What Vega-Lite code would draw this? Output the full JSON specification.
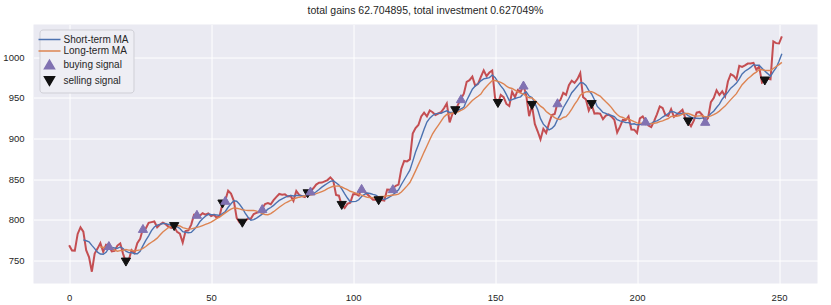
{
  "$schema": "https://vega.github.io/schema/vega-lite/v6.json",
  "width": 784,
  "height": 259,
  "autosize": {"type": "none"},
  "padding": {"left": 33.5, "top": 24.5, "right": 13.5, "bottom": 21.5},
  "background": "white",
  "title": {"text": "total gains 62.704895, total investment 0.627049%", "font": "Liberation Sans", "fontSize": 10.5, "fontWeight": "normal", "color": "#262626", "offset": 8},
  "data": {"values": [
    {"d":0,"close":768.70},{"d":1,"close":762.13},{"d":2,"close":762.02},{"d":3,"close":782.52},{"d":4,"close":790.51},
    {"d":5,"close":785.31},{"d":6,"close":762.56},{"d":7,"close":754.02},{"d":8,"close":736.08},{"d":9,"close":758.49},
    {"d":10,"close":764.48},{"d":11,"close":771.23},{"d":12,"close":760.54},{"d":13,"close":769.20},{"d":14,"close":768.27,"series":"buying signal"},
    {"d":15,"close":760.99},{"d":16,"close":761.68},{"d":17,"close":768.24},{"d":18,"close":770.84},{"d":19,"close":758.04},
    {"d":20,"close":747.92,"series":"selling signal"},{"d":21,"close":750.50},{"d":22,"close":762.52},{"d":23,"close":759.11},{"d":24,"close":771.19},
    {"d":25,"close":776.42},{"d":26,"close":789.29,"series":"buying signal"},{"d":27,"close":789.27},{"d":28,"close":796.10},{"d":29,"close":797.07},
    {"d":30,"close":797.85},{"d":31,"close":790.80},{"d":32,"close":794.20},{"d":33,"close":796.42},{"d":34,"close":794.56},
    {"d":35,"close":791.26},{"d":36,"close":789.91},{"d":37,"close":791.55,"series":"selling signal"},{"d":38,"close":785.05},{"d":39,"close":782.79},
    {"d":40,"close":771.82},{"d":41,"close":786.14},{"d":42,"close":786.90},{"d":43,"close":794.02},{"d":44,"close":806.15},
    {"d":45,"close":806.65,"series":"buying signal"},{"d":46,"close":804.79},{"d":47,"close":807.91},{"d":48,"close":806.36},{"d":49,"close":807.88},
    {"d":50,"close":804.61},{"d":51,"close":806.07},{"d":52,"close":802.17},{"d":53,"close":805.02},{"d":54,"close":819.31,"series":"selling signal"},
    {"d":55,"close":823.87,"series":"buying signal"},{"d":56,"close":835.67},{"d":57,"close":832.15},{"d":58,"close":823.31},{"d":59,"close":802.32},
    {"d":60,"close":796.79},{"d":61,"close":795.70,"series":"selling signal"},{"d":62,"close":798.53},{"d":63,"close":801.49},{"d":64,"close":801.34},
    {"d":65,"close":806.97},{"d":66,"close":808.38},{"d":67,"close":809.56},{"d":68,"close":813.67,"series":"buying signal"},{"d":69,"close":819.24},
    {"d":70,"close":820.45},{"d":71,"close":818.98},{"d":72,"close":824.16},{"d":73,"close":828.07},{"d":74,"close":831.66},
    {"d":75,"close":830.76},{"d":76,"close":831.33},{"d":77,"close":828.64},{"d":78,"close":829.28},{"d":79,"close":823.21},
    {"d":80,"close":835.24},{"d":81,"close":830.63},{"d":82,"close":829.08},{"d":83,"close":827.78},{"d":84,"close":831.91,"series":"selling signal"},
    {"d":85,"close":835.37,"series":"buying signal"},{"d":86,"close":838.68},{"d":87,"close":843.25},{"d":88,"close":845.54},{"d":89,"close":845.62},
    {"d":90,"close":847.20},{"d":91,"close":848.78},{"d":92,"close":852.12},{"d":93,"close":848.40},{"d":94,"close":830.46},
    {"d":95,"close":829.59},{"d":96,"close":817.58,"series":"selling signal"},{"d":97,"close":814.43},{"d":98,"close":819.51},{"d":99,"close":820.92},
    {"d":100,"close":831.41},{"d":101,"close":831.50},{"d":102,"close":829.56},{"d":103,"close":838.55,"series":"buying signal"},{"d":104,"close":834.57},
    {"d":105,"close":831.41},{"d":106,"close":827.88},{"d":107,"close":824.67},{"d":108,"close":824.73},{"d":109,"close":823.35,"series":"selling signal"},
    {"d":110,"close":824.32},{"d":111,"close":823.56},{"d":112,"close":837.17},{"d":113,"close":836.82},{"d":114,"close":838.21,"series":"buying signal"},
    {"d":115,"close":841.65},{"d":116,"close":843.19},{"d":117,"close":862.76},{"d":118,"close":872.30},{"d":119,"close":871.73},
    {"d":120,"close":874.25},{"d":121,"close":905.96},{"d":122,"close":912.57},{"d":123,"close":916.44},{"d":124,"close":927.04},
    {"d":125,"close":931.66},{"d":126,"close":927.13},{"d":127,"close":934.30},{"d":128,"close":932.17},{"d":129,"close":928.78},
    {"d":130,"close":930.60},{"d":131,"close":932.22},{"d":132,"close":937.08},{"d":133,"close":943.00},{"d":134,"close":919.62},
    {"d":135,"close":930.24},{"d":136,"close":934.01,"series":"selling signal"},{"d":137,"close":941.86},{"d":138,"close":948.82,"series":"buying signal"},{"d":139,"close":954.96},
    {"d":140,"close":969.54},{"d":141,"close":971.47},{"d":142,"close":975.88},{"d":143,"close":964.86},{"d":144,"close":966.95},
    {"d":145,"close":975.60},{"d":146,"close":983.68},{"d":147,"close":976.57},{"d":148,"close":980.94},{"d":149,"close":983.41},
    {"d":150,"close":949.83},{"d":151,"close":942.90,"series":"selling signal"},{"d":152,"close":953.40},{"d":153,"close":950.76},{"d":154,"close":942.31},
    {"d":155,"close":939.78},{"d":156,"close":957.37},{"d":157,"close":950.63},{"d":158,"close":959.45},{"d":159,"close":957.09},
    {"d":160,"close":965.59,"series":"buying signal"},{"d":161,"close":952.27},{"d":162,"close":927.33},{"d":163,"close":940.49,"series":"selling signal"},{"d":164,"close":917.79},
    {"d":165,"close":908.73},{"d":166,"close":898.70},{"d":167,"close":911.71},{"d":168,"close":906.69},{"d":169,"close":918.59},
    {"d":170,"close":928.80},{"d":171,"close":930.09},{"d":172,"close":943.83,"series":"buying signal"},{"d":173,"close":947.16},{"d":174,"close":955.99},
    {"d":175,"close":953.42},{"d":176,"close":965.40},{"d":177,"close":970.89},{"d":178,"close":968.15},{"d":179,"close":972.92},
    {"d":180,"close":980.34},{"d":181,"close":950.70},{"d":182,"close":947.80},{"d":183,"close":934.09},{"d":184,"close":941.53,"series":"selling signal"},
    {"d":185,"close":930.50},{"d":186,"close":930.83},{"d":187,"close":930.39},{"d":188,"close":923.65},{"d":189,"close":927.96},
    {"d":190,"close":929.36},{"d":191,"close":926.79},{"d":192,"close":922.90},{"d":193,"close":907.24},{"d":194,"close":914.39},
    {"d":195,"close":922.67},{"d":196,"close":922.22},{"d":197,"close":926.96},{"d":198,"close":910.98},{"d":199,"close":910.67},
    {"d":200,"close":906.66},{"d":201,"close":924.69},{"d":202,"close":927.00},{"d":203,"close":921.28,"series":"buying signal"},{"d":204,"close":915.89},
    {"d":205,"close":913.81},{"d":206,"close":921.29},{"d":207,"close":929.57},{"d":208,"close":939.33},{"d":209,"close":937.34},
    {"d":210,"close":928.45},{"d":211,"close":927.81},{"d":212,"close":935.95},{"d":213,"close":926.50},{"d":214,"close":929.08},
    {"d":215,"close":932.07},{"d":216,"close":935.09},{"d":217,"close":925.11},{"d":218,"close":920.29,"series":"selling signal"},{"d":219,"close":915.00},
    {"d":220,"close":921.81},{"d":221,"close":931.58},{"d":222,"close":932.45},{"d":223,"close":928.53},{"d":224,"close":920.97,"series":"buying signal"},
    {"d":225,"close":924.86},{"d":226,"close":944.49},{"d":227,"close":949.50},{"d":228,"close":959.11},{"d":229,"close":953.27},
    {"d":230,"close":957.79},{"d":231,"close":951.68},{"d":232,"close":969.96},{"d":233,"close":978.89},{"d":234,"close":977.00},
    {"d":235,"close":972.60},{"d":236,"close":989.25},{"d":237,"close":987.83},{"d":238,"close":989.68},{"d":239,"close":992.00},
    {"d":240,"close":992.18},{"d":241,"close":992.81},{"d":242,"close":984.45},{"d":243,"close":988.20},{"d":244,"close":968.45},
    {"d":245,"close":970.54,"series":"selling signal"},{"d":246,"close":973.33},{"d":247,"close":972.56},{"d":248,"close":1019.27},{"d":249,"close":1017.11},
    {"d":250,"close":1016.64},{"d":251,"close":1025.50}
  ]},
  "encoding": {
    "x": {"field": "d", "type": "quantitative", "scale": {"domain": [-12.55, 263.55], "nice": false, "zero": false},
          "axis": {"values": [0, 50, 100, 150, 200, 250], "title": null, "labelPadding": 8.5, "format": "d"}},
    "y": {"type": "quantitative", "scale": {"domain": [721.6, 1040.0], "nice": false, "zero": false},
          "axis": {"values": [750, 800, 850, 900, 950, 1000], "title": null, "labelPadding": 9.5, "format": "d"}}
  },
  "layer": [
    {"mark": {"type": "line", "color": "#C44E52", "strokeWidth": 2},
     "encoding": {"y": {"field": "close", "type": "quantitative"}}},
    {"transform": [
       {"window": [{"op": "mean", "field": "close", "as": "sma"}], "frame": [-5, 0], "sort": [{"field": "d"}]},
       {"filter": {"field": "d", "gte": 5}}],
     "mark": {"type": "line", "color": "#4C72B0", "strokeWidth": 1.4},
     "encoding": {"y": {"field": "sma", "type": "quantitative"}}},
    {"transform": [
       {"window": [{"op": "mean", "field": "close", "as": "lma"}], "frame": [-11, 0], "sort": [{"field": "d"}]},
       {"filter": {"field": "d", "gte": 11}}],
     "mark": {"type": "line", "color": "#DD8452", "strokeWidth": 1.4},
     "encoding": {"y": {"field": "lma", "type": "quantitative"}}},
    {"transform": [{"filter": "isValid(datum.series)"}],
     "mark": {"type": "point", "filled": true, "size": 85, "strokeWidth": 1, "opacity": 1},
     "encoding": {
       "y": {"field": "close", "type": "quantitative"},
       "fill": {"field": "series", "type": "nominal",
                "scale": {"domain": ["Short-term MA", "Long-term MA", "buying signal", "selling signal"], "range": ["#4C72B0", "#DD8452", "#8172B2", "#111111"]},
                "legend": {"title": null, "orient": "none", "legendX": 6, "legendY": 5, "fillColor": "#EEEEF4", "strokeColor": "#CFCFD6", "cornerRadius": 3, "padding": 4, "labelFont": "Liberation Sans", "labelFontSize": 10, "labelColor": "#262626", "rowPadding": 0.5, "symbolSize": 100, "symbolStrokeWidth": 1.5, "labelOffset": 8, "symbolOpacity": 1, "labelLimit": 200}},
       "stroke": {"field": "series", "type": "nominal",
                "scale": {"domain": ["Short-term MA", "Long-term MA", "buying signal", "selling signal"], "range": ["#4C72B0", "#DD8452", "#8172B2", "#111111"]}},
       "shape": {"field": "series", "type": "nominal",
                "scale": {"domain": ["Short-term MA", "Long-term MA", "buying signal", "selling signal"], "range": ["M-2.2,0H2.2", "M-2.2,0H2.2", "triangle-up", "triangle-down"]}}
     }}
  ],
  "config": {
    "view": {"fill": "#EAEAF2", "stroke": null},
    "axis": {"domain": false, "ticks": false, "tickSize": 0, "grid": true, "gridColor": "#FFFFFF", "gridWidth": 1, "labelFont": "Liberation Sans", "labelFontSize": 9.5, "labelColor": "#262626"}
  }
}
